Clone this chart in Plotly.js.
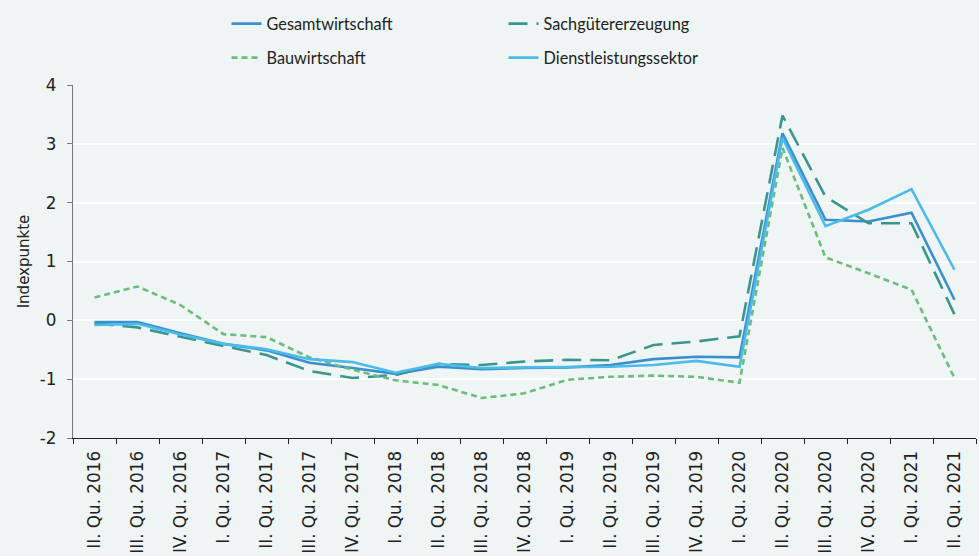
<!DOCTYPE html>
<html><head><meta charset="utf-8">
<script src="https://cdn.plot.ly/plotly-3.0.1.min.js"></script>
<style>html,body{margin:0;padding:0;background:#eff5f5;overflow:hidden;}#chart{width:979px;height:556px;}</style>
</head><body><div id="chart"></div>
<script>
const categories = ["II. Qu. 2016","III. Qu. 2016","IV. Qu. 2016","I. Qu. 2017","II. Qu. 2017","III. Qu. 2017","IV. Qu. 2017","I. Qu. 2018","II. Qu. 2018","III. Qu. 2018","IV. Qu. 2018","I. Qu. 2019","II. Qu. 2019","III. Qu. 2019","IV. Qu. 2019","I. Qu. 2020","II. Qu. 2020","III. Qu. 2020","IV. Qu. 2020","I. Qu. 2021","II. Qu. 2021"];
const gesamtwirtschaft = [-0.03,-0.03,-0.22,-0.40,-0.51,-0.72,-0.81,-0.91,-0.79,-0.83,-0.81,-0.80,-0.76,-0.66,-0.62,-0.63,3.18,1.71,1.68,1.83,0.35];
const sachgueter = [-0.05,-0.12,-0.28,-0.43,-0.59,-0.86,-0.98,-0.93,-0.74,-0.76,-0.70,-0.67,-0.68,-0.42,-0.36,-0.27,3.48,2.10,1.65,1.65,0.10];
const bauwirtschaft = [0.39,0.575,0.26,-0.235,-0.285,-0.63,-0.84,-1.02,-1.10,-1.32,-1.24,-1.01,-0.96,-0.94,-0.96,-1.06,2.93,1.07,0.80,0.52,-0.98];
const dienstleistung = [-0.08,-0.06,-0.24,-0.40,-0.49,-0.66,-0.71,-0.89,-0.74,-0.81,-0.80,-0.80,-0.79,-0.76,-0.69,-0.79,3.10,1.60,1.88,2.23,0.86];
const names = ["Gesamtwirtschaft","Sachgütererzeugung","Bauwirtschaft","Dienstleistungssektor"];
const yTickVals = [-2,-1,0,1,2,3,4];
const yTickText = ["-2","-1","0","1","2","3","4"];

const legendFont = {family: "Lato, 'DejaVu Sans', sans-serif", size: 16.3, color: "#222"};
const axisFont = {family: "'DejaVu Sans', sans-serif", size: 16.8, color: "#222"};
const titleFont = {family: "'DejaVu Sans', sans-serif", size: 15, color: "#222"};
const traces = [
  {x: categories, y: gesamtwirtschaft, name: names[0], mode: "lines", line: {color: "#3a8fd0", width: 2.6}, legend: "legend"},
  {x: categories, y: sachgueter, name: names[1], mode: "lines", line: {color: "#3a9591", width: 2.6, dash: "19px,9px"}, legend: "legend"},
  {x: categories, y: bauwirtschaft, name: names[2], mode: "lines", line: {color: "#6bbd7c", width: 2.6, dash: "6px,4px"}, legend: "legend2"},
  {x: categories, y: dienstleistung, name: names[3], mode: "lines", line: {color: "#4cbbe9", width: 2.6}, legend: "legend2"}
];
const layout = {
  width: 979, height: 556,
  paper_bgcolor: "#eff5f5", plot_bgcolor: "#eff5f5",
  font: legendFont,
  margin: {l: 73, r: 3, t: 85, b: 118, autoexpand: false},
  showlegend: true,
  legend: {orientation: "h", x: 0.17, xanchor: "left", y: 1.1728, yanchor: "middle", entrywidth: 232, bgcolor: "rgba(0,0,0,0)", font: legendFont, traceorder: "normal"},
  legend2: {orientation: "h", x: 0.17, xanchor: "left", y: 1.0765, yanchor: "middle", entrywidth: 232, bgcolor: "rgba(0,0,0,0)", font: legendFont, traceorder: "normal"},
  xaxis: {
    type: "category", tickangle: -90, tickson: "boundaries", ticks: "outside", ticklen: 5, tickcolor: "#222",
    showline: true, linecolor: "#222", linewidth: 1.2, showgrid: false, tickfont: axisFont,
    ticklabelstandoff: 5, range: [-0.5, 20.5]
  },
  yaxis: {
    range: [-2, 4], tickvals: yTickVals, ticktext: yTickText, ticks: "outside", ticklen: 5, tickcolor: "#777",
    showline: true, linecolor: "#777", linewidth: 1.2,
    gridcolor: "#ffffff", gridwidth: 2, zeroline: true, zerolinecolor: "#ffffff", zerolinewidth: 2,
    tickfont: axisFont, ticklabelstandoff: 7,
    title: {text: "Indexpunkte", font: titleFont, standoff: 6}
  }
};
Plotly.newPlot("chart", traces, layout, {displayModeBar: false, staticPlot: true});
</script></body></html>
